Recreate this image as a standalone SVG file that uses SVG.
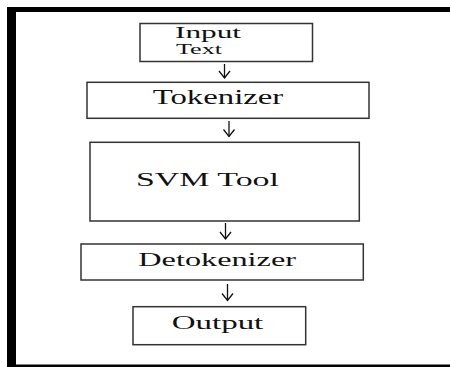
<svg xmlns="http://www.w3.org/2000/svg" width="450" height="367" viewBox="0 0 450 367">
<style>
.box{fill:#fff;stroke:#333;stroke-width:1.5}
.lbl{font-family:"Liberation Serif","Times New Roman",serif;fill:#111}
.conn{stroke:#111;stroke-width:1.3;fill:none}
.frame{fill:#000}
</style>
<defs>
<marker id="ah" markerUnits="userSpaceOnUse" orient="auto" refX="0" refY="0" markerWidth="20" markerHeight="20" style="overflow:visible">
<path d="M-7,-5.5 L0,0 L-7,5.5" fill="none" stroke="#111" stroke-width="1.3"/>
</marker>
</defs>
<rect width="450" height="367" fill="#fff"/>
<g id="frame">
<rect class="frame" x="7" y="7" width="9" height="360"/>
<rect class="frame" x="7" y="7" width="443" height="5"/>
<rect class="frame" x="7" y="364.5" width="443" height="2.5"/>
</g>
<g id="connectors">
<line class="conn" x1="224.5" y1="64" x2="224.5" y2="78" marker-end="url(#ah)"/>
<line class="conn" x1="229" y1="121" x2="229" y2="136.5" marker-end="url(#ah)"/>
<line class="conn" x1="225.5" y1="223" x2="225.5" y2="239" marker-end="url(#ah)"/>
<line class="conn" x1="227.5" y1="284" x2="227.5" y2="300.5" marker-end="url(#ah)"/>
</g>
<g id="input">
<rect class="box" x="140" y="23.5" width="172.5" height="38"/>
<text class="lbl" x="175" y="38" font-size="16" textLength="66" lengthAdjust="spacingAndGlyphs">Input</text>
<text class="lbl" x="176" y="54" font-size="14" textLength="46" lengthAdjust="spacingAndGlyphs">Text</text>
</g>
<g id="tokenizer">
<rect class="box" x="87" y="82.3" width="282" height="36"/>
<text class="lbl" x="152.7" y="104" font-size="20" textLength="130.6" lengthAdjust="spacingAndGlyphs">Tokenizer</text>
</g>
<g id="svm">
<rect class="box" x="90" y="142.3" width="269.3" height="78.7"/>
<text class="lbl" x="136" y="186" font-size="18" textLength="143" lengthAdjust="spacingAndGlyphs">SVM Tool</text>
</g>
<g id="detokenizer">
<rect class="box" x="81" y="244" width="282.3" height="36"/>
<text class="lbl" x="138.3" y="266" font-size="19" textLength="157.7" lengthAdjust="spacingAndGlyphs">Detokenizer</text>
</g>
<g id="output">
<rect class="box" x="133" y="306.7" width="172.7" height="38"/>
<text class="lbl" x="171.7" y="329" font-size="19" textLength="91.6" lengthAdjust="spacingAndGlyphs">Output</text>
</g>
</svg>
